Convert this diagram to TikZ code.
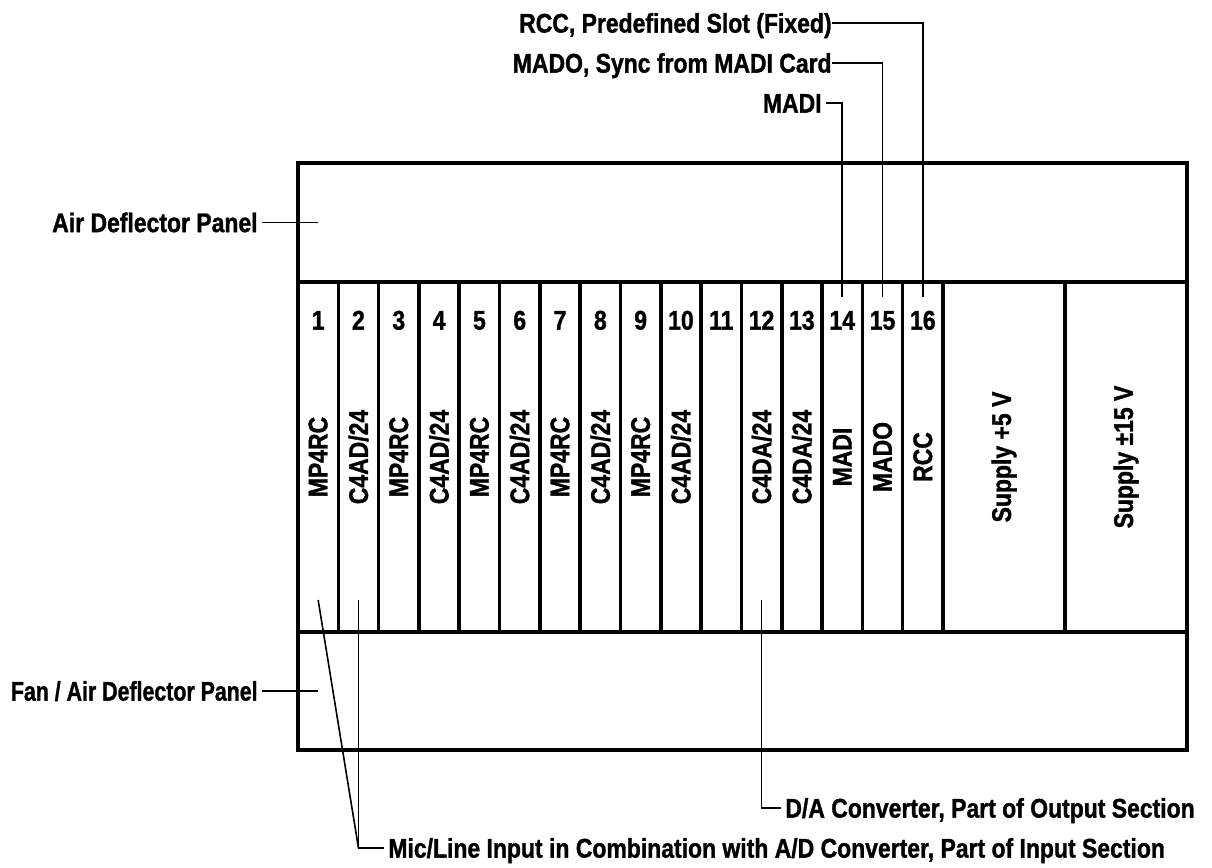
\documentclass[tikz,border=0pt]{standalone}
\usepackage{fontspec}
\setmainfont{Liberation Sans}[FakeStretch=0.85, BoldFeatures={FakeBold=1.2}]
\usetikzlibrary{positioning}

\begin{document}
\begin{tikzpicture}[
    x=0.5pt, y=-0.5pt,
    every node/.style={font=\bfseries\fontsize{13.5}{15}\selectfont},
    panel/.style={draw, line width=1.8pt, inner sep=0pt, outer sep=0pt, minimum width=444.5pt},
    slotbox/.style={draw, line width=1.8pt, inner sep=0pt, outer sep=0pt, minimum width=20.156pt, minimum height=175pt},
    supplybox/.style={slotbox, minimum width=61pt},
    num/.style={text height=9.6pt, text depth=0pt},
    card/.style={rotate=90},
    callout/.style={inner sep=2pt, text height=9.6pt, text depth=0pt},
    leader/.style={line width=0.8pt}
]
\useasboundingbox (0,0) rectangle (1212,868);
\node[panel, minimum height=59.5pt, anchor=north west] (air) at (298,163) {};
\node[slotbox, anchor=north west] (s1) at (air.south west) {};
\foreach \i [remember=\i as \j (initially 1)] in {2,...,16}
    \node[slotbox, right=0pt of s\j] (s\i) {};
\node[supplybox, right=0pt of s16] (sup5) {};
\node[supplybox, right=0pt of sup5] (sup15) {};
\node[panel, minimum height=59pt, anchor=north west] (fan) at (s1.south west) {};
\foreach \i in {1,...,16}
    \node[num] (n\i) at ([yshift=-19pt]s\i.north) {\i};
\foreach \i/\card in {1/MP4RC, 2/{C4AD/24}, 3/MP4RC, 4/{C4AD/24}, 5/MP4RC, 6/{C4AD/24}, 7/MP4RC, 8/{C4AD/24}, 9/MP4RC, 10/{C4AD/24}, 12/{C4DA/24}, 13/{C4DA/24}, 14/MADI, 15/MADO, 16/RCC}
    \node[card] (c\i) at (s\i) {\card};
\node[card] (t5) at (sup5) {Supply +5 V};
\node[card] (t15) at (sup15) {Supply ±15 V};

\node[callout, left=18pt of air.west] (airlbl) {Air Deflector Panel};
\node[callout, left=18pt of fan.west] (fanlbl) {\scalebox{0.93}[1]{Fan / Air Deflector Panel}};
\node[callout, inner sep=0pt, anchor=east] (rcclbl) at (832,23) {RCC, Predefined Slot (Fixed)};
\node[callout, inner sep=0pt, anchor=east] (madolbl) at (832,63) {MADO, Sync from MADI Card};
\node[callout, anchor=east] (madilbl) at (826,103) {MADI};
\node[callout, anchor=west] (dalbl) at (781,808) {D/A Converter, Part of Output Section};
\node[callout, anchor=west] (adlbl) at (384,848) {Mic/Line Input in Combination with A/D Converter, Part of Input Section};

\draw[leader] (airlbl.east) -- ([xshift=10pt]air.west);
\draw[leader] (fanlbl.east) -- ([xshift=10pt]fan.west);
\draw[leader] (rcclbl.east) -| ([yshift=-7.5pt]s16.north);
\draw[leader] (madolbl.east) -| ([yshift=-7.5pt]s15.north);
\draw[leader] (madilbl.east) -| ([yshift=-7.5pt]s14.north);
\draw[leader] ([yshift=16pt]s12.south) |- (dalbl.west);
\draw[leader] ([yshift=16pt]s2.south) |- (adlbl.west);
\draw[leader] ([yshift=16pt]s1.south) -- (s2.south |- adlbl.west);
\end{tikzpicture}
\end{document}
